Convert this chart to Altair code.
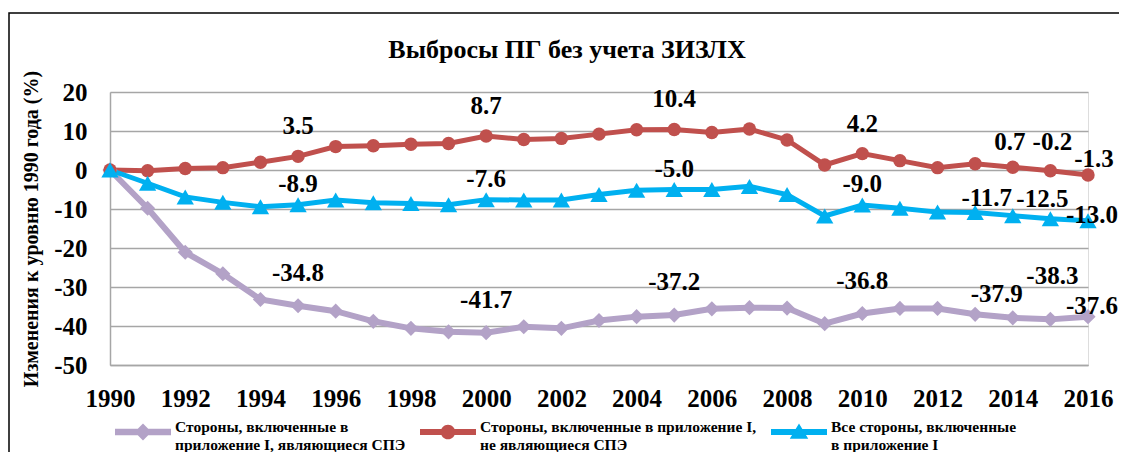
import altair as alt
import pandas as pd

# ---------------- data ----------------
years = list(range(1990, 2017))

series_names = [
    "Стороны, включенные в|приложение I, являющиеся СПЭ",
    "Стороны, включенные в приложение I,|не являющиеся СПЭ",
    "Все стороны, включенные|в приложение I",
]

eit = [0, -9.8, -21.1, -26.6, -33.2, -34.8, -36.2, -38.8, -40.6, -41.5,
       -41.7, -40.2, -40.6, -38.6, -37.6, -37.2, -35.6, -35.3, -35.4, -39.4,
       -36.8, -35.5, -35.5, -37.0, -37.9, -38.3, -37.6]
non_eit = [0, -0.2, 0.4, 0.6, 2.0, 3.5, 6.0, 6.2, 6.6, 6.8,
           8.7, 7.8, 8.1, 9.2, 10.3, 10.4, 9.6, 10.5, 7.7, 1.3,
           4.2, 2.4, 0.6, 1.6, 0.7, -0.2, -1.3]
all_annex = [0, -3.4, -6.9, -8.3, -9.4, -8.9, -7.7, -8.4, -8.6, -8.9,
             -7.6, -7.7, -7.7, -6.3, -5.2, -5.0, -5.0, -4.2, -6.3, -11.8,
             -9.0, -9.8, -10.8, -10.9, -11.7, -12.5, -13.0]

label_years = [1995, 2000, 2005, 2010, 2014, 2015, 2016]
x_tick_values = list(range(1990, 2017, 2))
y_tick_values = [20, 10, 0, -10, -20, -30, -40, -50]

colors = ["#B3A2C7", "#C0504D", "#00B0F0"]

rows = []
for name, vals in zip(series_names, [eit, non_eit, all_annex]):
    for yr, v in zip(years, vals):
        rows.append({"series": name, "year": yr, "value": v,
                     "label": f"{v:.1f}", "show": yr in label_years})
df = pd.DataFrame(rows)

# ---------------- styles ----------------
FONT = "Liberation Serif"
GRID = "#A6A6A6"

# data-label offsets (dx, dy) per series: default, then special years
label_style = [
    {"default": (0, -33), 2014: (-16, -24), 2015: (2, -43), 2016: (4, -11)},    # EIT
    {"default": (0, -30), 2014: (-3, -25), 2015: (2, -29), 2016: (6, -16)},     # non-EIT
    {"default": (0, -21), 2014: (-26, -18), 2015: (-8, -20), 2016: (4, -6)},    # all
]

x_enc = alt.X("year:Q",
              scale=alt.Scale(domain=[1990, 2016], nice=False, zero=False),
              axis=alt.Axis(values=x_tick_values, format="d", title=None, grid=False,
                            ticks=False, labelPadding=21, labelFontSize=25,
                            labelFlush=False, labelOverlap=False,
                            labelFont=FONT, labelFontWeight="bold", labelColor="black",
                            domainColor=GRID, domainWidth=1.5))
y_enc = alt.Y("value:Q",
              scale=alt.Scale(domain=[-50, 20], nice=False, zero=False),
              axis=alt.Axis(values=y_tick_values, title="Изменения к уровню 1990 года (%)",
                            labelExpr="'' + datum.value", labelOverlap=False,
                            grid=True, gridColor=GRID, gridWidth=1.5,
                            ticks=False, labelPadding=23, labelFontSize=25,
                            labelFont=FONT, labelFontWeight="bold", labelColor="black",
                            domainColor=GRID, domainWidth=1.5,
                            titleFont=FONT, titleFontSize=20, titleFontWeight="bold",
                            titleColor="black", titlePadding=12))

base = alt.Chart(df)

shapes = ["diamond", "circle", "triangle-up"]
sizes = [230, 180, 300]
widths = [6, 5, 5]


def only(name):
    return base.transform_filter(alt.FieldEqualPredicate(field="series", equal=name))


layers = []
for name, col, w in zip(series_names, colors, widths):
    layers.append(only(name).mark_line(color=col, strokeWidth=w).encode(x=x_enc, y=y_enc))
for name, col, shp, sz in zip(series_names, colors, shapes, sizes):
    layers.append(only(name).mark_point(filled=True, shape=shp, size=sz, color=col, opacity=1)
                  .encode(x=x_enc, y=y_enc))

special = [2014, 2015, 2016]
for name, st in zip(series_names, label_style):
    dx, dy = st["default"]
    layers.append(only(name).transform_filter("datum.show && datum.year < 2014")
                  .mark_text(dx=dx, dy=dy, font=FONT, fontSize=25, fontWeight="bold",
                             color="black")
                  .encode(x=x_enc, y=y_enc, text="label:N"))
    for yr in special:
        dx, dy = st[yr]
        layers.append(only(name).transform_filter(f"datum.year == {yr}")
                      .mark_text(dx=dx, dy=dy, font=FONT, fontSize=25, fontWeight="bold",
                                 color="black")
                      .encode(x=x_enc, y=y_enc, text="label:N"))

# legend layer (carries only the legend)
legend_paths = [
    "M-1,-0.12L1,-0.12L1,0.12L-1,0.12Z M0,-0.3L0.3,0L0,0.3L-0.3,0Z",
    "M-1,-0.11L1,-0.11L1,0.11L-1,0.11Z M0.26,0A0.26,0.26 0 1,1 -0.26,0A0.26,0.26 0 1,1 0.26,0Z",
    "M-1,-0.11L1,-0.11L1,0.11L-1,0.11Z M0,-0.3L0.33,0.24L-0.33,0.24Z",
]
leg = dict(title=None, orient="none", legendX=5, legendY=312,
           direction="horizontal", columns=3, symbolSize=3136,
           symbolStrokeWidth=0, labelFont=FONT, labelFontSize=15.5,
           labelFontWeight="bold", labelColor="black",
           labelExpr="split(datum.label, '|')", labelLimit=600,
           labelOffset=4, columnPadding=14, padding=0, labelBaseline="alphabetic")
legend_layer = base.transform_filter("datum.year < 0").mark_point(filled=True, opacity=1).encode(
    x=x_enc, y=y_enc,
    color=alt.Color("series:N", scale=alt.Scale(domain=series_names, range=colors),
                    legend=alt.Legend(**leg)),
    shape=alt.Shape("series:N", scale=alt.Scale(domain=series_names, range=legend_paths),
                    legend=alt.Legend(**leg)),
)

frame = alt.Chart(alt.Data(values=[{"a": 1}])).mark_rect(
    fill="transparent", stroke="black", strokeWidth=1.5).encode(
    x=alt.value(-101), x2=alt.value(1200), y=alt.value(-79), y2=alt.value(600))

chart = alt.layer(frame, *layers, legend_layer).properties(
    width=978, height=273,
    title=alt.TitleParams("Выбросы ПГ без учета ЗИЗЛХ", font=FONT, fontSize=26,
                          fontWeight="bold", color="black", dx=-32, offset=-51,
                          frame="group", anchor="middle"),
    padding={"left": 102, "top": 84, "right": 31, "bottom": 87},
    autosize=alt.AutoSizeParams(type="none"),
).configure_view(stroke="transparent").configure(background="white")

chart.save("out.html", embed_options={"renderer": "svg", "actions": False})
